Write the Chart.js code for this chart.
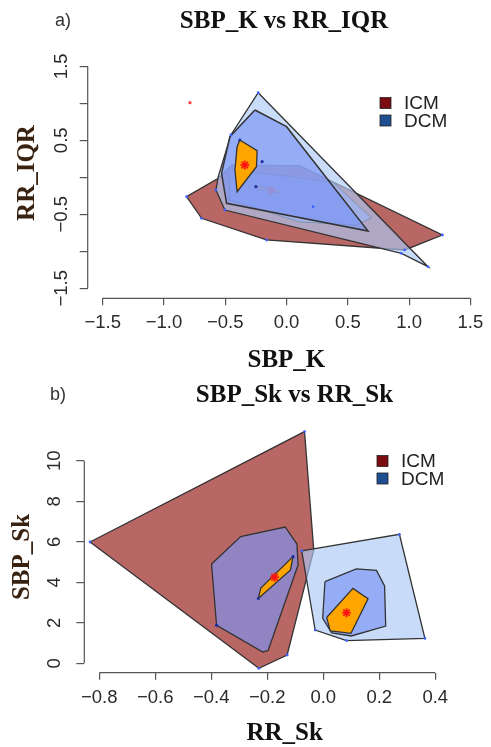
<!DOCTYPE html>
<html>
<head>
<meta charset="utf-8">
<script src="https://cdn.jsdelivr.net/npm/chart.js@4.4.1/dist/chart.umd.min.js"></script>
<style>
  html, body { margin: 0; padding: 0; background: #fff; }
  #wrap { position: relative; width: 491px; height: 747px; overflow: hidden; }
  .panel { position: absolute; left: 0; width: 491px; }
  #panelA { top: 0; height: 380px; }
  #panelB { top: 370px; height: 377px; }
</style>
</head>
<body>
<div id="wrap">
  <div class="panel" id="panelA"><canvas id="chartA"></canvas></div>
  <div class="panel" id="panelB"><canvas id="chartB"></canvas></div>
</div>
<script>
// ---- panel a) SBP_K vs RR_IQR ----
const xTicksA = [-1.5, -1.0, -0.5, 0.0, 0.5, 1.0, 1.5];
const yTicksA = [-1.5, -1.0, -0.5, 0.0, 0.5, 1.0, 1.5];
const yLabelsA = ["\u22121.5", "", "\u22120.5", "", "0.5", "", "1.5"];

const icmLoopA = [[-0.815, -0.262], [-0.557, -0.014], [-0.446, 0.166], [0.108, 0.153], [1.271, -0.780], [0.964, -0.982], [-0.163, -0.847], [-0.693, -0.554]];
const icmBagA = [[-0.470, 0.112], [0.378, -0.063], [0.693, -0.550], [0.565, -0.645], [0.108, -0.604], [-0.462, -0.307]];
const icmCenterA = [[-0.245, -0.115], [-0.060, -0.180], [-0.040, -0.215], [-0.230, -0.160]];
const icmMedianA = [-0.125, -0.172];
const dcmLoopA = [[-0.231, 1.143], [1.154, -1.208], [0.937, -1.027], [-0.503, -0.442], [-0.576, -0.172], [-0.557, 0.008], [-0.454, 0.572]];
const dcmBagA = [[-0.258, 0.909], [0.0, 0.684], [0.665, -0.726], [-0.489, -0.351], [-0.530, 0.054], [-0.462, 0.549]];
const dcmCenterA = [[-0.381, 0.504], [-0.240, 0.359], [-0.245, 0.143], [-0.403, -0.195], [-0.421, 0.099], [-0.403, 0.414]];
const dcmMedianA = [-0.340, 0.166];
const bluePtsA = [[-0.815, -0.262], [-0.693, -0.554], [-0.163, -0.847], [1.271, -0.780], [0.964, -0.982], [-0.231, 1.143], [-0.454, 0.572], [-0.576, -0.172], [-0.503, -0.442], [0.937, -1.027], [1.154, -1.208], [0.217, -0.397]];
const navyPtsA = [[-0.199, 0.211], [-0.250, -0.127], [-0.381, 0.504]];
const redPtsA = [[-0.788, 1.008]];

// ---- panel b) SBP_Sk vs RR_Sk ----
const xTicksB = [-0.8, -0.6, -0.4, -0.2, 0.0, 0.2, 0.4];
const yTicksB = [0, 2, 4, 6, 8, 10];
const yLabelsB = ["0", "2", "4", "6", "8", "10"];

const icmLoopB = [[-0.833, 5.99], [-0.067, 11.44], [-0.034, 5.60], [-0.129, 0.41], [-0.230, -0.25]];
const icmBagB = [[-0.399, 4.90], [-0.295, 6.26], [-0.136, 6.73], [-0.094, 5.89], [-0.090, 4.85], [-0.197, 0.63], [-0.216, 0.56], [-0.381, 1.87]];
const icmCenterB = [[-0.232, 3.20], [-0.223, 3.72], [-0.108, 5.27], [-0.117, 4.61]];
const icmMedianB = [-0.174, 4.25];
const dcmLoopB = [[-0.077, 5.55], [0.272, 6.37], [0.363, 1.23], [0.083, 1.12], [-0.029, 1.64]];
const dcmBagB = [[0.006, 4.03], [0.118, 4.66], [0.190, 4.59], [0.219, 3.82], [0.223, 1.84], [0.100, 1.35], [0.030, 1.50], [-0.002, 2.22]];
const dcmCenterB = [[0.012, 2.26], [0.106, 3.70], [0.160, 3.19], [0.099, 1.48], [0.025, 1.60]];
const dcmMedianB = [0.083, 2.50];
const bluePtsB = [[-0.833, 5.99], [-0.067, 11.44], [-0.129, 0.41], [-0.230, -0.25], [-0.077, 5.55], [0.272, 6.37], [0.363, 1.23], [0.083, 1.12], [-0.029, 1.64]];
const navyPtsB = [[-0.381, 1.87], [-0.232, 3.20], [-0.108, 5.27]];

const groups = ["ICM", "DCM"];
const groupColors = ["#7b0d12", "#1d4f91"];

const RED_LOOP = "#b96765";
const BLUE_LOOP = "rgba(171,201,248,0.65)";
const BAG = "rgba(122,148,246,0.65)";
const CENTER = "#ffa500";
const EDGE = "#333";

const toPts = arr => arr.map(p => ({ x: p[0], y: p[1] }));

function poly(pts, fill, width) {
  return {
    data: toPts(pts.concat([pts[0]])),
    showLine: true, fill: "shape", tension: 0,
    backgroundColor: fill, borderColor: EDGE, borderWidth: width,
    pointRadius: 0
  };
}
function median(p) {
  return [
    { data: toPts([p]), pointStyle: "circle", pointRadius: 4, backgroundColor: "rgba(255,60,0,0.45)", borderWidth: 0 },
    { data: toPts([p]), pointStyle: "star", pointRadius: 4.5, borderColor: "#ff1010", borderWidth: 1.4, backgroundColor: "#ff1010" }
  ];
}
function dots(pts, color, r) {
  return { data: toPts(pts), pointRadius: r, backgroundColor: color, borderWidth: 0 };
}
function stack(list) {
  // first item lies at the bottom
  list.forEach((d, i) => { d.order = list.length - i; });
  return list;
}

function fmt(v, digits) {
  return (v < 0 ? "\u2212" : "") + Math.abs(v).toFixed(digits);
}

function makeDecor(cfg) {
  return {
    id: "decor",
    afterDraw(chart) {
      const { ctx, chartArea: a, scales: { x, y } } = chart;
      ctx.save();
      ctx.strokeStyle = "#555";
      ctx.lineWidth = 1.2;
      ctx.beginPath();
      ctx.moveTo(x.getPixelForValue(cfg.xTicks[0]), a.bottom);
      ctx.lineTo(x.getPixelForValue(cfg.xTicks[cfg.xTicks.length - 1]), a.bottom);
      ctx.moveTo(a.left, y.getPixelForValue(cfg.yTicks[0]));
      ctx.lineTo(a.left, y.getPixelForValue(cfg.yTicks[cfg.yTicks.length - 1]));
      ctx.stroke();

      // rotated y tick labels
      ctx.fillStyle = "#2a2a2a";
      ctx.font = "18.5px 'Liberation Sans'";
      ctx.textAlign = "center";
      ctx.textBaseline = "middle";
      cfg.yTicks.forEach((v, i) => {
        if (!cfg.yLabels[i]) return;
        ctx.save();
        ctx.translate(a.left - cfg.yLabelGap, y.getPixelForValue(v));
        ctx.rotate(-Math.PI / 2);
        ctx.fillText(cfg.yLabels[i], 0, 0);
        ctx.restore();
      });

      // y axis title
      ctx.save();
      ctx.fillStyle = "#3a2210";
      ctx.font = "bold 25px 'Liberation Serif'";
      ctx.translate(cfg.yTitleX, cfg.yTitleY);
      ctx.rotate(-Math.PI / 2);
      ctx.fillText(cfg.yTitle, 0, 0);
      ctx.restore();

      // panel letter and title
      ctx.fillStyle = "#333";
      ctx.font = "18px 'Liberation Sans'";
      ctx.textAlign = "left";
      ctx.fillText(cfg.letter, cfg.letterX, cfg.letterY);
      ctx.fillStyle = "#111";
      ctx.font = "bold 25px 'Liberation Serif'";
      ctx.textAlign = "center";
      ctx.fillText(cfg.title, cfg.titleX, cfg.titleY);

      // legend
      ctx.font = "19px 'Liberation Sans'";
      ctx.textAlign = "left";
      groups.forEach((g, i) => {
        const ly = cfg.legendY + i * 17.5;
        ctx.fillStyle = groupColors[i];
        ctx.fillRect(cfg.legendX, ly - 5.5, 11, 11);
        ctx.strokeStyle = "#222";
        ctx.lineWidth = 0.8;
        ctx.strokeRect(cfg.legendX, ly - 5.5, 11, 11);
        ctx.fillStyle = "#222";
        ctx.fillText(g, cfg.legendX + 24, ly + 1);
      });
      ctx.restore();
    }
  };
}

function makeChart(id, datasets, cfg) {
  const titleFont = { family: "Liberation Serif", size: 25, weight: "bold", lineHeight: 1 };
  return new Chart(document.getElementById(id).getContext("2d"), {
    type: "scatter",
    data: { datasets: stack(datasets) },
    options: {
      responsive: true,
      maintainAspectRatio: false,
      animation: false,
      layout: { padding: { top: cfg.top, right: cfg.right, left: 0, bottom: 0 } },
      plugins: { legend: { display: false }, tooltip: { enabled: false } },
      scales: {
        x: {
          type: "linear", min: cfg.xMin, max: cfg.xMax,
          afterBuildTicks: s => { s.ticks = cfg.xTicks.map(v => ({ value: v })); },
          afterFit: s => { s.height = cfg.xHeight; },
          border: { display: false },
          grid: { drawOnChartArea: false, tickLength: 7, color: "#555", lineWidth: 1.2 },
          ticks: {
            font: { family: "Liberation Sans", size: 18.5 }, color: "#2a2a2a", padding: 7,
            maxRotation: 0, autoSkip: false,
            callback: v => fmt(v, 1)
          },
          title: { display: true, text: cfg.xTitle, font: titleFont, color: "#111", padding: cfg.xTitlePad }
        },
        y: {
          type: "linear", min: cfg.yMin, max: cfg.yMax,
          afterBuildTicks: s => { s.ticks = cfg.yTicks.map(v => ({ value: v })); },
          afterFit: s => { s.width = cfg.yWidth; },
          border: { display: false },
          grid: { drawOnChartArea: false, tickLength: 8, color: "#555", lineWidth: 1.2 },
          ticks: { display: false },
          title: { display: false }
        }
      }
    },
    plugins: [makeDecor(cfg)]
  });
}

makeChart("chartA", [
  poly(icmLoopA, RED_LOOP, 1.3),
  poly(icmBagA, BAG, 1.0),
  poly(icmCenterA, CENTER, 0.8),
  ...median(icmMedianA),
  poly(dcmLoopA, BLUE_LOOP, 1.3),
  poly(dcmBagA, BAG, 1.5),
  poly(dcmCenterA, CENTER, 1.3),
  ...median(dcmMedianA),
  dots(bluePtsA, "#4060ff", 1.4),
  dots(navyPtsA, "#2030a0", 1.6),
  dots(redPtsA, "#ff4040", 1.6)
], {
  xTicks: xTicksA, yTicks: yTicksA, yLabels: yLabelsA,
  xMin: -1.622, xMax: 1.62, yMin: -1.635, yMax: 1.62,
  top: 57.4, right: 5.5, xHeight: 81.7, yWidth: 87.7,
  xTitle: "SBP_K", yTitle: "RR_IQR", xTitlePad: 7,
  yTitleX: 28, yTitleY: 173,
  yLabelGap: 26,
  letter: "a)", letterX: 55, letterY: 21,
  title: "SBP_K vs RR_IQR", titleX: 284, titleY: 22,
  legendX: 380, legendY: 103
});

makeChart("chartB", [
  poly(icmLoopB, RED_LOOP, 1.3),
  poly(icmBagB, BAG, 1.3),
  poly(icmCenterB, CENTER, 1.3),
  ...median(icmMedianB),
  poly(dcmLoopB, BLUE_LOOP, 1.3),
  poly(dcmBagB, BAG, 1.3),
  poly(dcmCenterB, CENTER, 1.3),
  ...median(dcmMedianB),
  dots(bluePtsB, "#4060ff", 1.4),
  dots(navyPtsB, "#2030a0", 1.6)
], {
  xTicks: xTicksB, yTicks: yTicksB, yLabels: yLabelsB,
  xMin: -0.8535, xMax: 0.578, yMin: -0.464, yMax: 11.9,
  top: 52.3, right: 3, xHeight: 74.3, yWidth: 84.3,
  xTitle: "RR_Sk", yTitle: "SBP_Sk", xTitlePad: 1,
  yTitleX: 23, yTitleY: 187,
  yLabelGap: 29,
  letter: "b)", letterX: 50, letterY: 25,
  title: "SBP_Sk vs RR_Sk", titleX: 294.5, titleY: 26,
  legendX: 377, legendY: 91
});
</script>
</body>
</html>
